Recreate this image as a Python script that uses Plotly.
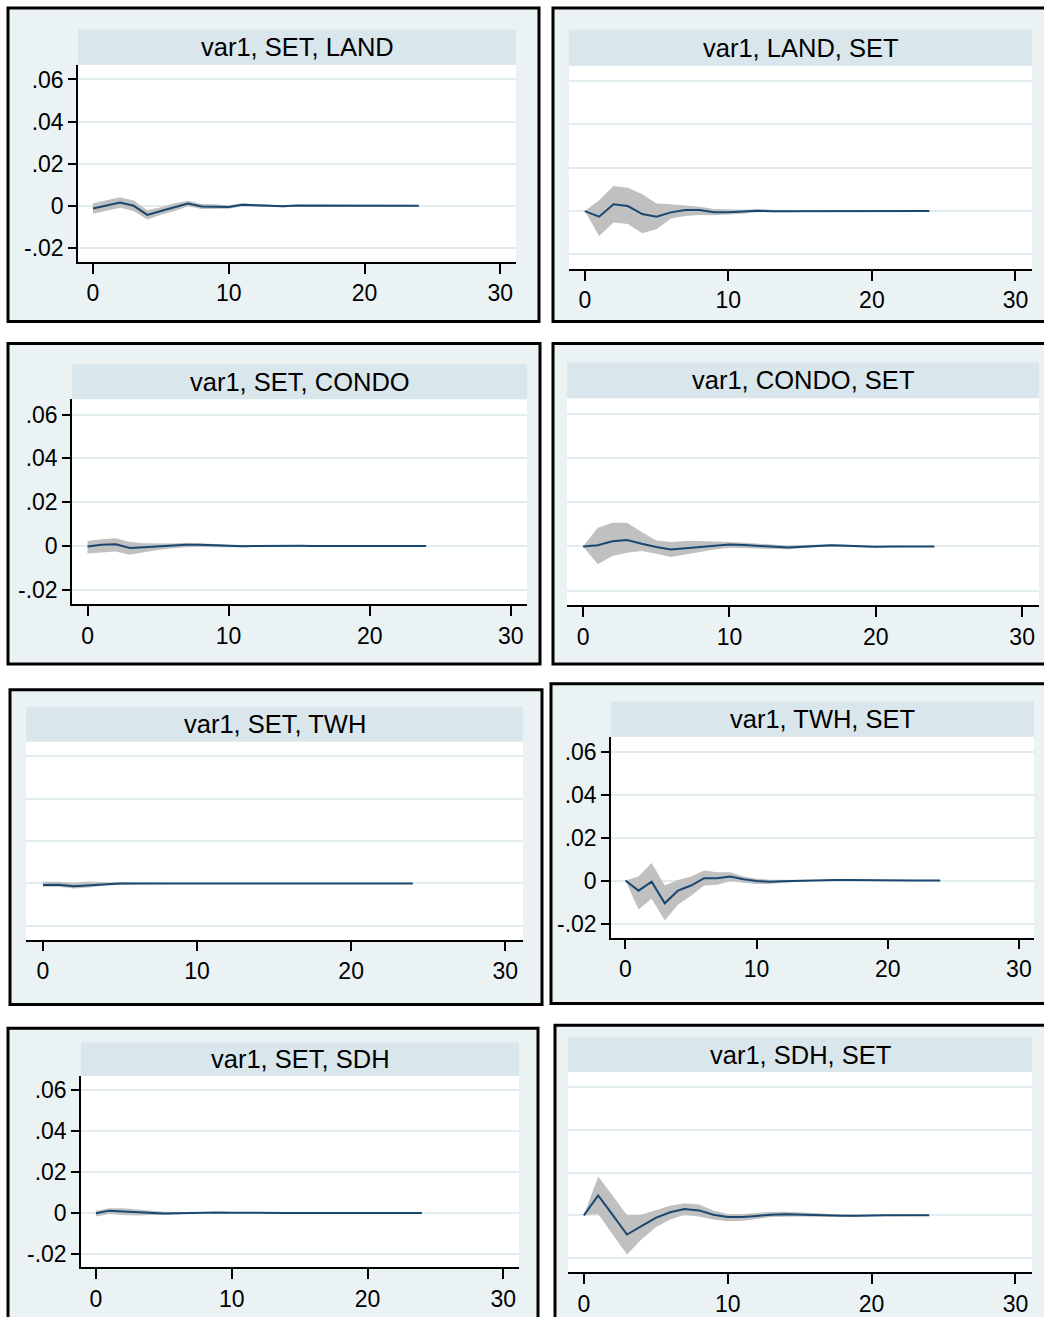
import plotly.graph_objects as go

# ---------------- data ----------------
steps = list(range(25))

titles = ["var1, SET, LAND", "var1, LAND, SET",
          "var1, SET, CONDO", "var1, CONDO, SET",
          "var1, SET, TWH", "var1, TWH, SET",
          "var1, SET, SDH", "var1, SDH, SET"]

# impulse responses (orthogonalised IRF) and 95% CI bounds
irf_set_land = [-0.0013, 0.0001, 0.0016, 0.0000, -0.0043, -0.0025, -0.0007, 0.0011, -0.0003, -0.0003,
                -0.0006, 0.0005, 0.0002, 0.0002, -0.0002, 0.0001, 0.0001, 0.0001, 0.0000, 0.0001,
                0.0000, 0.0001, 0.0000, 0.0000, 0.0000]
hi_set_land = [0.0012, 0.0026, 0.0041, 0.0025, -0.0021, -0.0007, 0.0012, 0.0024, 0.0009, 0.0007,
               0.0002, 0.0012, 0.0008, 0.0007, 0.0003, 0.0005, 0.0005, 0.0004, 0.0003, 0.0004,
               0.0002, 0.0003, 0.0002, 0.0002, 0.0002]
lo_set_land = [-0.0038, -0.0024, -0.0009, -0.0025, -0.0065, -0.0043, -0.0026, -0.0002, -0.0015, -0.0013,
               -0.0014, -0.0002, -0.0004, -0.0003, -0.0007, -0.0003, -0.0003, -0.0002, -0.0003, -0.0002,
               -0.0002, -0.0001, -0.0002, -0.0002, -0.0002]

irf_land_set = [0.0000, -0.0026, 0.0031, 0.0023, -0.0014, -0.0026, -0.0006, 0.0005, 0.0005, -0.0005,
                -0.0005, -0.0003, 0.0002, -0.0001, -0.0001, -0.0002, 0.0000, 0.0000, 0.0000, 0.0000,
                0.0000, 0.0000, 0.0000, 0.0000, 0.0000]
hi_land_set = [0.0000, 0.0050, 0.0115, 0.0108, 0.0078, 0.0035, 0.0031, 0.0027, 0.0020, 0.0009,
               0.0007, 0.0006, 0.0008, 0.0005, 0.0004, 0.0002, 0.0003, 0.0003, 0.0002, 0.0002,
               0.0002, 0.0002, 0.0002, 0.0001, 0.0001]
lo_land_set = [0.0000, -0.0115, -0.0053, -0.0060, -0.0102, -0.0084, -0.0034, -0.0023, -0.0018, -0.0019,
               -0.0016, -0.0012, -0.0005, -0.0006, -0.0005, -0.0004, -0.0003, -0.0003, -0.0002, -0.0002,
               -0.0002, -0.0002, -0.0002, -0.0001, -0.0001]

irf_set_condo = [-0.0003, 0.0006, 0.0008, -0.0009, -0.0006, -0.0002, 0.0003, 0.0005, 0.0005, 0.0002,
                 -0.0001, -0.0001, 0.0000, 0.0001, 0.0001, 0.0001, 0.0000, 0.0000, 0.0000, 0.0000,
                 0.0000, 0.0001, 0.0001, 0.0000, 0.0000]
hi_set_condo = [0.0023, 0.0031, 0.0035, 0.0018, 0.0012, 0.0012, 0.0011, 0.0015, 0.0013, 0.0009,
                0.0005, 0.0004, 0.0004, 0.0004, 0.0004, 0.0003, 0.0003, 0.0003, 0.0002, 0.0002,
                0.0002, 0.0002, 0.0002, 0.0001, 0.0001]
lo_set_condo = [-0.0034, -0.0028, -0.0025, -0.0040, -0.0029, -0.0018, -0.0011, -0.0006, -0.0005, -0.0006,
                -0.0007, -0.0006, -0.0004, -0.0003, -0.0003, -0.0002, -0.0003, -0.0003, -0.0002, -0.0002,
                -0.0002, -0.0001, -0.0001, -0.0001, -0.0001]

irf_condo_set = [0.0000, 0.0005, 0.0023, 0.0029, 0.0012, -0.0003, -0.0014, -0.0008, -0.0002, 0.0005,
                 0.0008, 0.0006, 0.0002, -0.0003, -0.0005, -0.0002, 0.0003, 0.0005, 0.0003, 0.0000,
                 -0.0002, -0.0001, 0.0000, 0.0000, 0.0000]
hi_condo_set = [0.0000, 0.0084, 0.0107, 0.0107, 0.0065, 0.0027, 0.0020, 0.0024, 0.0024, 0.0023,
                0.0020, 0.0017, 0.0012, 0.0006, 0.0004, 0.0006, 0.0009, 0.0010, 0.0007, 0.0004,
                0.0002, 0.0002, 0.0002, 0.0002, 0.0002]
lo_condo_set = [0.0000, -0.0081, -0.0044, -0.0029, -0.0021, -0.0033, -0.0048, -0.0036, -0.0026, -0.0014,
                -0.0006, -0.0008, -0.0009, -0.0012, -0.0013, -0.0009, -0.0003, 0.0000, -0.0001, -0.0004,
                -0.0006, -0.0004, -0.0002, -0.0002, -0.0002]

irf_set_twh = [-0.0008, -0.0006, -0.0013, -0.0008, -0.0003, 0.0000, -0.0001, 0.0000, -0.0001, -0.0001,
               -0.0001, -0.0001, -0.0001, -0.0001, -0.0001, -0.0001, -0.0001, -0.0001, -0.0001, -0.0001,
               -0.0001, -0.0001, -0.0001, -0.0001, -0.0001]
hi_set_twh = [0.0008, 0.0008, 0.0003, 0.0009, 0.0006, 0.0005, 0.0003, 0.0003, 0.0002, 0.0001,
              0.0001, 0.0001, 0.0000, 0.0000, 0.0000, 0.0000, 0.0000, 0.0000, 0.0000, 0.0000,
              0.0000, 0.0000, 0.0000, 0.0000, 0.0000]
lo_set_twh = [-0.0016, -0.0016, -0.0024, -0.0019, -0.0010, -0.0006, -0.0005, -0.0003, -0.0003, -0.0003,
              -0.0002, -0.0002, -0.0002, -0.0002, -0.0002, -0.0002, -0.0002, -0.0002, -0.0002, -0.0002,
              -0.0002, -0.0002, -0.0002, -0.0002, -0.0002]

irf_twh_set = [0.0000, -0.0047, -0.0005, -0.0106, -0.0047, -0.0023, 0.0011, 0.0011, 0.0019, 0.0006,
               -0.0002, -0.0006, -0.0003, -0.0001, 0.0002, 0.0003, 0.0003, 0.0003, 0.0002, 0.0000,
               0.0000, 0.0000, 0.0000, 0.0000, 0.0000]
hi_twh_set = [0.0000, 0.0019, 0.0082, -0.0023, 0.0003, 0.0019, 0.0047, 0.0039, 0.0039, 0.0019,
              0.0009, 0.0004, 0.0004, 0.0004, 0.0005, 0.0006, 0.0006, 0.0005, 0.0004, 0.0003,
              0.0002, 0.0002, 0.0002, 0.0002, 0.0002]
lo_twh_set = [0.0000, -0.0135, -0.0085, -0.0186, -0.0112, -0.0071, -0.0023, -0.0019, -0.0003, -0.0011,
              -0.0016, -0.0016, -0.0010, -0.0006, -0.0002, 0.0000, 0.0000, 0.0000, -0.0001, -0.0003,
              -0.0003, -0.0002, -0.0002, -0.0002, -0.0002]

irf_set_sdh = [-0.0002, 0.0011, 0.0007, 0.0003, -0.0002, -0.0003, -0.0002, 0.0000, 0.0002, 0.0002,
               0.0001, 0.0000, 0.0000, 0.0000, 0.0000, 0.0000, 0.0000, 0.0000, 0.0000, 0.0000,
               0.0000, 0.0000, 0.0000, 0.0000, 0.0000]
hi_set_sdh = [0.0011, 0.0023, 0.0023, 0.0016, 0.0010, 0.0005, 0.0004, 0.0004, 0.0005, 0.0005,
              0.0004, 0.0003, 0.0002, 0.0002, 0.0001, 0.0001, 0.0001, 0.0001, 0.0001, 0.0001,
              0.0001, 0.0001, 0.0001, 0.0001, 0.0001]
lo_set_sdh = [-0.0018, -0.0005, -0.0010, -0.0013, -0.0010, -0.0010, -0.0008, -0.0004, -0.0001, -0.0001,
              -0.0002, -0.0002, -0.0002, -0.0002, -0.0001, -0.0001, -0.0001, -0.0001, -0.0001, -0.0001,
              -0.0001, -0.0001, -0.0001, -0.0001, -0.0001]

irf_sdh_set = [0.0000, 0.0093, 0.0002, -0.0090, -0.0051, -0.0012, 0.0014, 0.0029, 0.0023, 0.0003,
               -0.0008, -0.0008, -0.0003, 0.0003, 0.0005, 0.0003, 0.0001, -0.0002, -0.0002, -0.0002,
               0.0000, 0.0000, 0.0000, 0.0000, 0.0000]
hi_sdh_set = [0.0000, 0.0181, 0.0093, 0.0000, 0.0003, 0.0023, 0.0045, 0.0057, 0.0050, 0.0022,
              0.0006, 0.0006, 0.0011, 0.0016, 0.0017, 0.0015, 0.0011, 0.0006, 0.0004, 0.0003,
              0.0004, 0.0004, 0.0003, 0.0003, 0.0003]
lo_sdh_set = [0.0000, 0.0006, -0.0090, -0.0183, -0.0113, -0.0056, -0.0020, 0.0003, -0.0005, -0.0020,
              -0.0028, -0.0025, -0.0017, -0.0008, -0.0006, -0.0006, -0.0007, -0.0008, -0.0008, -0.0007,
              -0.0004, -0.0003, -0.0003, -0.0003, -0.0003]

irfs = [irf_set_land, irf_land_set, irf_set_condo, irf_condo_set,
        irf_set_twh, irf_twh_set, irf_set_sdh, irf_sdh_set]
his = [hi_set_land, hi_land_set, hi_set_condo, hi_condo_set,
       hi_set_twh, hi_twh_set, hi_set_sdh, hi_sdh_set]
los = [lo_set_land, lo_land_set, lo_set_condo, lo_condo_set,
       lo_set_twh, lo_twh_set, lo_set_sdh, lo_sdh_set]

x_ticks = [0, 10, 20, 30]
y_ticks = [-0.02, 0, 0.02, 0.04, 0.06]
y_tick_text = ["-.02", "0", ".02", ".04", ".06"]

# ---------------- layout geometry (pixels) ----------------
W, H = 1044, 1317
# frame (l, t, r, b), title strip (t, b), plot region (l, t, r, b), show y-axis
panels = [
    dict(frame=(8, 8, 539, 323), strip=(30, 65), plot=(78, 65, 516, 263), yax=True),
    dict(frame=(553, 8, 1060, 323), strip=(30, 66), plot=(569, 66, 1032, 270), yax=False),
    dict(frame=(8, 345, 540, 667), strip=(366, 401), plot=(72, 401, 527, 607), yax=True),
    dict(frame=(553, 345, 1060, 667), strip=(364, 400), plot=(567, 400, 1039, 608), yax=False),
    dict(frame=(10, 693, 542, 1009), strip=(710, 745), plot=(26, 745, 523, 944), yax=False),
    dict(frame=(551, 687, 1060, 1008), strip=(705, 740), plot=(611, 740, 1034, 942), yax=True),
    dict(frame=(8, 1033, 538, 1340), strip=(1047, 1081), plot=(81, 1081, 519, 1273), yax=True),
    dict(frame=(555, 1030, 1060, 1340), strip=(1042, 1077), plot=(568, 1077, 1032, 1278), yax=False),
]

XR = [-1.1, 31.15]
YR = [-0.0266, 0.0670]

BG = "#EAF2F3"
STRIP = "#D9E6EB"
GRID = "#E3ECEF"
LINE = "#1A476F"
BAND = "rgb(192,192,192)"
FONT = "Liberation Sans, Arial, sans-serif"


def px(x):
    return x / W


def py(y):
    return 1 - y / H


fig = go.Figure()
shapes = []
annotations = []

for i, p in enumerate(panels):
    n = i + 1
    xa = "x" if n == 1 else f"x{n}"
    ya = "y" if n == 1 else f"y{n}"
    fl, ft, fr, fb = p["frame"]
    pl, pt, pr, pb = p["plot"]
    st, sb = p["strip"]

    shapes.append(dict(type="rect", xref="paper", yref="paper", layer="below",
                       x0=px(fl), x1=px(fr), y0=py(fb), y1=py(ft),
                       fillcolor=BG, line=dict(color="black", width=3)))
    shapes.append(dict(type="rect", xref="paper", yref="paper", layer="below",
                       x0=px(pl), x1=px(pr), y0=py(pb), y1=py(pt),
                       fillcolor="white", line=dict(width=0)))
    shapes.append(dict(type="rect", xref="paper", yref="paper", layer="below",
                       x0=px(pl), x1=px(pr), y0=py(sb), y1=py(st),
                       fillcolor=STRIP, line=dict(width=0)))
    annotations.append(dict(xref="paper", yref="paper", x=px((pl + pr) / 2), y=py((st + sb) / 2),
                            text=titles[i], showarrow=False, xanchor="center", yanchor="middle",
                            font=dict(family=FONT, size=25.5, color="black")))

    # CI band
    fig.add_trace(go.Scatter(x=steps + steps[::-1], y=his[i] + los[i][::-1],
                             fill="toself", fillcolor=BAND, mode="lines",
                             line=dict(width=0, color=BAND), hoverinfo="skip",
                             showlegend=False, xaxis=xa, yaxis=ya))
    # IRF line
    fig.add_trace(go.Scatter(x=steps, y=irfs[i], mode="lines",
                             line=dict(color=LINE, width=2), showlegend=False,
                             xaxis=xa, yaxis=ya))

    xkey = "xaxis" if n == 1 else f"xaxis{n}"
    ykey = "yaxis" if n == 1 else f"yaxis{n}"
    fig.update_layout({
        xkey: dict(domain=[px(pl), px(pr)], anchor=ya, range=XR,
                   tickvals=x_ticks, ticktext=[str(v) for v in x_ticks],
                   showgrid=False, zeroline=False, showline=True,
                   linecolor="black", linewidth=1.5, ticks="outside",
                   ticklen=10, tickwidth=1.5, tickcolor="black",
                   tickfont=dict(family=FONT, size=23, color="black")),
        ykey: dict(domain=[max(0.0, py(pb)), py(pt)], anchor=xa, range=YR,
                   tickvals=y_ticks, ticktext=y_tick_text,
                   showgrid=True, gridcolor=GRID, gridwidth=1.5,
                   zeroline=False, showline=p["yax"], linecolor="black",
                   linewidth=1.5, ticks="outside" if p["yax"] else "",
                   ticklen=8, tickwidth=1.5, tickcolor="black",
                   showticklabels=p["yax"],
                   tickfont=dict(family=FONT, size=23, color="black")),
    })

fig.update_layout(width=W, height=H, margin=dict(l=0, r=0, t=0, b=0),
                  paper_bgcolor="white", plot_bgcolor="rgba(0,0,0,0)",
                  shapes=shapes, annotations=annotations, showlegend=False,
                  font=dict(family=FONT))

fig.write_html("out.html")
